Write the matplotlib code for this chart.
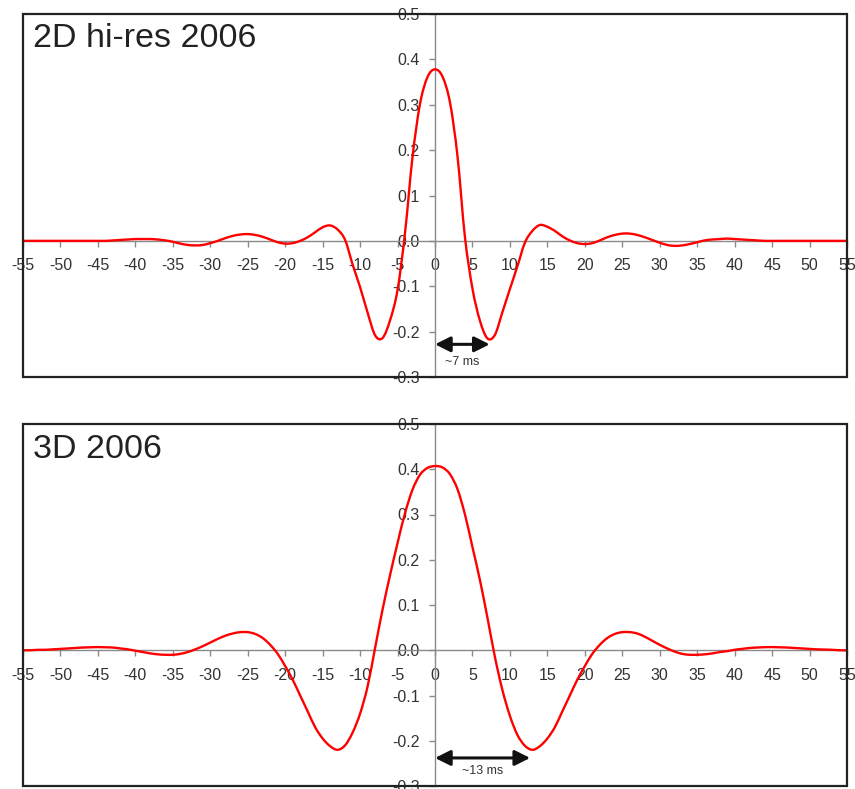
import numpy as np
import matplotlib
matplotlib.use("Agg")
from matplotlib import pyplot as plt
from matplotlib.patches import Rectangle, PathPatch
from matplotlib.path import Path

plt.rcParams['font.family'] = ['Liberation Sans', 'DejaVu Sans']

# 时间轴 (ms)
t_ms = np.arange(-55, 56)

# 2D hi-res 2006 wavelet (-55 .. 55)
y_2d = [
    0.0, 0.0, 0.0, 0.0, 0.0, 0.0, 0.0, 0.0, 0.0, 0.0,            # -55..-46
    0.0, 0.0, 0.001, 0.002, 0.003, 0.004, 0.004, 0.004, 0.003, 0.001,  # -45..-36
    -0.002, -0.006, -0.009, -0.010, -0.009, -0.005, 0.0, 0.006, 0.011, 0.014,  # -35..-26
    0.015, 0.013, 0.009, 0.003, -0.003, -0.006, -0.005, 0.0, 0.008, 0.019,  # -25..-16
    0.030, 0.034, 0.025, 0.002, -0.052, -0.102, -0.158, -0.208, -0.214, -0.175,  # -15..-6
    -0.108, 0.018, 0.185, 0.302, 0.361,                           # -5..-1
    0.378,                                                        # 0
    0.362, 0.305, 0.187, 0.008, -0.105, -0.176, -0.215, -0.207, -0.157, -0.106,  # 1..10
    -0.056, -0.004, 0.022, 0.035, 0.031, 0.022, 0.010, 0.001, -0.005, -0.007,  # 11..20
    -0.005, 0.001, 0.008, 0.013, 0.016, 0.016, 0.013, 0.008, 0.002, -0.004,  # 21..30
    -0.009, -0.011, -0.010, -0.007, -0.003, 0.001, 0.003, 0.004, 0.005, 0.004,  # 31..40
    0.003, 0.002, 0.001, 0.0, 0.0, 0.0, 0.0, 0.0, 0.0, 0.0,      # 41..50
    0.0, 0.0, 0.0, 0.0, 0.0,                                      # 51..55
]

# 3D 2006 wavelet
y_3d = [
    0.0, 0.0, 0.001, 0.001, 0.002, 0.003, 0.004, 0.005, 0.006, 0.0065,  # -55..-46
    0.007, 0.0065, 0.006, 0.004, 0.002, -0.001, -0.004, -0.007, -0.009, -0.010,  # -45..-36
    -0.010, -0.008, -0.004, 0.002, 0.009, 0.017, 0.025, 0.032, 0.037, 0.040,  # -35..-26
    0.040, 0.036, 0.027, 0.012, -0.008, -0.035, -0.065, -0.100, -0.135, -0.170,  # -25..-16
    -0.195, -0.212, -0.220, -0.210, -0.182, -0.140, -0.080, 0.005, 0.090, 0.166,  # -15..-6
    0.237, 0.303, 0.355, 0.388, 0.403,                            # -5..-1
    0.407,                                                        # 0
    0.404, 0.389, 0.356, 0.300, 0.228, 0.155, 0.072, -0.015, -0.088, -0.145,  # 1..10
    -0.187, -0.211, -0.220, -0.212, -0.195, -0.170, -0.135, -0.100, -0.065, -0.035,  # 11..20
    -0.008, 0.012, 0.027, 0.036, 0.040, 0.040, 0.037, 0.030, 0.021, 0.012,  # 21..30
    0.004, -0.003, -0.008, -0.010, -0.010, -0.009, -0.007, -0.004, -0.002, 0.001,  # 31..40
    0.003, 0.005, 0.006, 0.0067, 0.007, 0.0065, 0.006, 0.005, 0.004, 0.003,  # 41..50
    0.002, 0.0015, 0.001, 0.0, 0.0,                               # 51..55
]

x_ticks = list(range(-55, 56, 5))
y_ticks = [-0.3, -0.2, -0.1, 0.0, 0.1, 0.2, 0.3, 0.4, 0.5]

panel_titles = ["2D hi-res 2006", "3D 2006"]
arrow_ends = [7.3, 12.7]
arrow_texts = ["~7 ms", "~13 ms"]


def smooth_path(x, y):
    # Excel 式平滑线: 用三次贝塞尔曲线连接各数据点
    pts = np.column_stack([x, y]).astype(float)
    n = len(pts)
    verts = [pts[0]]
    codes = [Path.MOVETO]
    for i in range(n - 1):
        p0 = pts[max(i - 1, 0)]
        p1 = pts[i]
        p2 = pts[i + 1]
        p3 = pts[min(i + 2, n - 1)]
        c1 = p1 + (p2 - p0) / 6.0
        c2 = p2 - (p3 - p1) / 6.0
        verts += [c1, c2, p2]
        codes += [Path.CURVE4] * 3
    return Path(verts, codes)


def setup_axes(ax):
    ax.set_xlim(-55, 55)
    ax.set_ylim(-0.3, 0.5)
    # 坐标轴穿过原点
    ax.spines['left'].set_position(('data', 0))
    ax.spines['bottom'].set_position(('data', 0))
    for s in ['left', 'bottom']:
        ax.spines[s].set_color('#8a8a8a')
        ax.spines[s].set_linewidth(1.0)
    ax.spines['top'].set_visible(False)
    ax.spines['right'].set_visible(False)
    ax.set_xticks(x_ticks)
    ax.set_xticklabels([str(v) for v in x_ticks])
    ax.set_yticks(y_ticks)
    ax.set_yticklabels(['%.1f' % v if v >= 0 else '-%.1f' % abs(v) for v in y_ticks])
    ax.tick_params(direction='out', length=4, width=1, color='#8a8a8a',
                   labelsize=11.5, labelcolor='#333333')
    ax.tick_params(axis='x', pad=8.5)
    ax.tick_params(axis='y', pad=7)
    for lab in ax.get_xticklabels() + ax.get_yticklabels():
        lab.set_clip_on(False)
    # 外框
    ax.add_patch(Rectangle((0, 0), 1, 1, transform=ax.transAxes, fill=False,
                           lw=1.6, edgecolor='#222222', clip_on=False, zorder=6))


W, H = 855, 789
fig = plt.figure(figsize=(W / 100, H / 100), dpi=100)
ax_top = fig.add_axes([23 / W, 1 - 377 / H, 824 / W, 363 / H])
ax_bot = fig.add_axes([23 / W, 1 - 786 / H, 824 / W, 362 / H])

for i, (ax, y) in enumerate([(ax_top, y_2d), (ax_bot, y_3d)]):
    setup_axes(ax)
    ax.add_patch(PathPatch(smooth_path(t_ms, y), fill=False, edgecolor='#ff0000',
                           lw=1.7, zorder=4, clip_on=False))

    ay = -0.228 if i == 0 else -0.238
    ax.annotate('', xy=(arrow_ends[i], ay), xytext=(0, ay),
                arrowprops=dict(arrowstyle='<|-|>', color='#111111', lw=2.2,
                                mutation_scale=23, shrinkA=0, shrinkB=0),
                zorder=5)
    ax.text(arrow_ends[i] / 2, -0.266, arrow_texts[i], ha='center', va='center',
            fontsize=9, color='#333333')

fig.text(33 / W, 1 - 47 / H, panel_titles[0], fontsize=24.5, color='#222222',
         va='baseline', ha='left')
fig.text(33 / W, 1 - 458 / H, panel_titles[1], fontsize=24.5, color='#222222',
         va='baseline', ha='left')

plt.savefig('out.png', dpi=100)
